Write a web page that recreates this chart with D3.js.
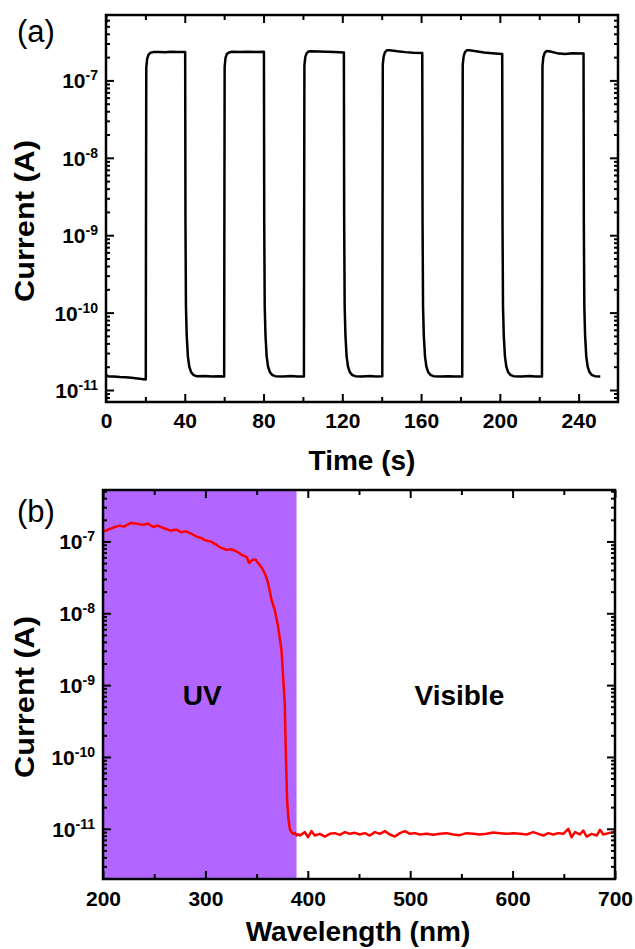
<!DOCTYPE html>
<html lang="en">
<head>
<meta charset="UTF-8">
<title>Photocurrent response</title>
<script src="https://d3js.org/d3.v7.min.js"></script>
<style>
  body { margin: 0; background: #fff; }
  text { font-family: Arial, "Liberation Sans", sans-serif; fill: #000; }
</style>
</head>
<body>
<script>
// ---------- panel (a): on/off switching, current vs time ----------
var timeS = [
  0, 0.6, 1.5, 4, 7, 10, 13, 16, 19, 20.2,
  20.3, 20.45, 20.9, 21.6, 22.6, 24, 27, 30, 33, 36, 40.2,
  40.35, 40.6, 41.0, 41.6, 42.3, 43.2, 44.5, 46, 50, 54, 57, 60.0,
  60.1, 60.25, 60.7, 61.4, 62.4, 64, 68, 72, 76, 80.2,
  80.35, 80.6, 81.0, 81.6, 82.3, 83.2, 84.5, 86, 90, 94, 97, 100.5,
  100.6, 100.75, 101.2, 101.9, 102.9, 104, 108, 112, 116, 120.8,
  120.95, 121.2, 121.6, 122.2, 122.9, 123.8, 125.1, 126.6, 130, 134, 137, 140.3,
  140.4, 140.55, 141, 141.7, 142.7, 144, 148, 152, 156, 160.6,
  160.75, 161.0, 161.4, 162, 162.7, 163.6, 164.9, 166.4, 170, 174, 177, 180.9,
  181.0, 181.15, 181.6, 182.3, 183.3, 184.5, 188, 192, 196, 201.2,
  201.35, 201.6, 202, 202.6, 203.3, 204.2, 205.5, 207, 211, 215, 218, 221.4,
  221.5, 221.65, 222.1, 222.8, 223.8, 225, 229, 233, 237, 242.5,
  242.65, 242.9, 243.3, 243.9, 244.6, 245.5, 246.8, 248.3, 251
];
var currentA = [
  1.58e-11, 1.52e-11, 1.50e-11, 1.49e-11, 1.47e-11, 1.46e-11, 1.44e-11, 1.41e-11, 1.38e-11, 1.37e-11,
  1e-9, 1.45e-7, 1.9e-7, 2.15e-7, 2.28e-7, 2.32e-7, 2.33e-7, 2.31e-7, 2.34e-7, 2.32e-7, 2.33e-7,
  1.5e-9, 1.2e-10, 5e-11, 2.7e-11, 2e-11, 1.7e-11, 1.56e-11, 1.51e-11, 1.52e-11, 1.5e-11, 1.51e-11, 1.5e-11,
  1e-9, 1.5e-7, 1.95e-7, 2.2e-7, 2.3e-7, 2.34e-7, 2.33e-7, 2.35e-7, 2.33e-7, 2.34e-7,
  1.5e-9, 1.2e-10, 5e-11, 2.7e-11, 2e-11, 1.7e-11, 1.56e-11, 1.51e-11, 1.5e-11, 1.52e-11, 1.5e-11, 1.5e-11,
  1e-9, 1.55e-7, 2e-7, 2.25e-7, 2.36e-7, 2.38e-7, 2.36e-7, 2.34e-7, 2.32e-7, 2.3e-7,
  1.5e-9, 1.2e-10, 5e-11, 2.7e-11, 2e-11, 1.7e-11, 1.56e-11, 1.51e-11, 1.5e-11, 1.52e-11, 1.5e-11, 1.51e-11,
  1e-9, 1.6e-7, 2.05e-7, 2.32e-7, 2.45e-7, 2.46e-7, 2.38e-7, 2.32e-7, 2.28e-7, 2.26e-7,
  1.5e-9, 1.2e-10, 5e-11, 2.7e-11, 2e-11, 1.7e-11, 1.56e-11, 1.51e-11, 1.5e-11, 1.51e-11, 1.5e-11, 1.5e-11,
  1e-9, 1.6e-7, 2.05e-7, 2.32e-7, 2.46e-7, 2.46e-7, 2.38e-7, 2.3e-7, 2.25e-7, 2.2e-7,
  1.5e-9, 1.2e-10, 5e-11, 2.7e-11, 2e-11, 1.7e-11, 1.56e-11, 1.51e-11, 1.5e-11, 1.52e-11, 1.5e-11, 1.5e-11,
  1e-9, 1.55e-7, 2e-7, 2.28e-7, 2.4e-7, 2.38e-7, 2.25e-7, 2.2e-7, 2.24e-7, 2.22e-7,
  1.5e-9, 1.2e-10, 5e-11, 2.7e-11, 2e-11, 1.7e-11, 1.56e-11, 1.51e-11, 1.5e-11
];
var timeTicks = [0, 40, 80, 120, 160, 200, 240];
var timeMinor = [20, 60, 100, 140, 180, 220];

// ---------- panel (b): spectral response ----------
var wavelengthNm = [
  200, 203, 206.5, 209, 211.4, 214, 216.3, 218.5, 221.2, 224, 227.7, 230, 232.6, 236, 239.1,
  241.5, 244, 246.5, 248.9, 251, 253.7, 256, 258.6, 261.9, 264, 266.8, 269, 271.7, 274, 276.6,
  279, 281.5, 284, 286.4, 289, 291.3, 294, 296.2, 298.5, 301, 303.5, 305.9, 308.3, 310.8, 313,
  315.7, 318, 320.6, 323, 325.5, 328, 330.4, 333, 335.3, 338, 340.2, 342.7, 345, 347, 349.2,
  351, 353.1, 355.5, 358, 360, 361.3, 363, 364.6, 366.2, 367.8, 369.4, 371, 372.6, 374.3, 375.9,
  377.5, 378.5, 379.8, 381, 382.4, 384, 385.7, 387.5, 389, 390.6,
  392.2, 397.1, 400.3, 403.6, 406.9, 411.7, 416.6, 421.5, 426.4, 431.3, 436.2, 441.1, 445.9,
  450.8, 455.7, 460.6, 465.5, 470.4, 475.3, 480.1, 485, 489.9, 494.8, 499.7, 504.6, 509.5,
  516, 522.5, 529, 535.5, 542, 548.5, 555, 561.6, 568.1, 574.6, 581.1, 587.6, 594.1, 600.6,
  607.2, 613.7, 620.2, 625.1, 630, 634.8, 639.7, 644.6, 649.5, 654.4, 657.6, 660.9, 665.8,
  669, 672.3, 677.2, 682.1, 685.3, 688.6, 693.5, 698.4, 700
];
var photoCurrentA = [
  1.38e-7, 1.42e-7, 1.49e-7, 1.53e-7, 1.59e-7, 1.62e-7, 1.66e-7, 1.63e-7, 1.62e-7, 1.72e-7, 1.81e-7, 1.79e-7, 1.77e-7, 1.73e-7, 1.71e-7,
  1.74e-7, 1.77e-7, 1.68e-7, 1.59e-7, 1.63e-7, 1.66e-7, 1.6e-7, 1.54e-7, 1.49e-7, 1.45e-7, 1.41e-7, 1.44e-7, 1.46e-7, 1.4e-7, 1.34e-7,
  1.37e-7, 1.38e-7, 1.32e-7, 1.28e-7, 1.22e-7, 1.17e-7, 1.14e-7, 1.11e-7, 1.06e-7, 1.03e-7, 1.01e-7, 9.9e-8, 9.4e-8, 9e-8, 8.5e-8,
  8.1e-8, 7.9e-8, 7.65e-8, 7.7e-8, 7.8e-8, 7.5e-8, 7.25e-8, 6.9e-8, 6.5e-8, 6.3e-8, 6.05e-8, 5e-8, 5.4e-8, 5.6e-8, 5.55e-8,
  5.1e-8, 4.7e-8, 4.2e-8, 3.6e-8, 3e-8, 2.6e-8, 2e-8, 1.53e-8, 1.3e-8, 1.1e-8, 8.5e-9, 6.5e-9, 4.5e-9, 3.1e-9, 1.3e-9,
  5.5e-10, 1.2e-10, 2.5e-11, 1.4e-11, 1e-11, 9e-12, 8.5e-12, 8.8e-12, 8.1e-12, 8.4e-12,
  8.06e-12, 8.98e-12, 7.63e-12, 9.27e-12, 8.06e-12, 8.51e-12, 7.8e-12, 8.51e-12, 8.7e-12, 8.24e-12, 8.98e-12, 8.51e-12, 8.79e-12,
  8.33e-12, 8.7e-12, 8.06e-12, 8.98e-12, 8.51e-12, 9.27e-12, 8.33e-12, 7.8e-12, 8.7e-12, 9.27e-12, 8.51e-12, 8.7e-12, 8.33e-12,
  8.51e-12, 8.24e-12, 8.51e-12, 8.7e-12, 8.33e-12, 8.15e-12, 8.7e-12, 8.51e-12, 8.33e-12, 8.51e-12, 8.88e-12, 8.7e-12, 8.51e-12, 8.7e-12,
  8.51e-12, 8.33e-12, 8.98e-12, 8.51e-12, 8.06e-12, 8.7e-12, 8.33e-12, 8.7e-12, 8.51e-12, 1e-11, 7.63e-12, 8.98e-12, 8.33e-12,
  9.47e-12, 7.8e-12, 8.51e-12, 8.06e-12, 9.68e-12, 8.33e-12, 8.7e-12, 8.98e-12, 9.3e-12
];
var wlTicks = [200, 300, 400, 500, 600, 700];
var wlMinor = [250, 350, 450, 550, 650];
var uvBand = [200, 389];

var currentTicks = [1e-11, 1e-10, 1e-9, 1e-8, 1e-7];

var svg = d3.select("body").append("svg")
    .attr("width", 635)
    .attr("height", 949);

function logMinor(domain) {
    var out = [];
    for (var e = -13; e <= -5; e++) {
        for (var m = 2; m <= 9; m++) {
            var v = m * Math.pow(10, e);
            if (v > domain[0] && v < domain[1]) out.push(v);
        }
    }
    return out;
}

function styleAxis(sel) {
    sel.select(".domain").remove();
    sel.selectAll(".tick line").attr("stroke", "#000").attr("stroke-width", 2);
    sel.selectAll(".tick text")
        .attr("font-family", "Arial, 'Liberation Sans', sans-serif")
        .attr("font-size", 21).attr("font-weight", "bold").attr("fill", "#000");
    sel.attr("font-family", null).attr("font-size", null);
}

function powerLabels(sel) {
    sel.selectAll(".tick text").each(function(d) {
        var t = d3.select(this).text("").attr("dy", "0.36em");
        t.append("tspan").text("10");
        t.append("tspan").attr("font-size", 14).attr("dy", -8)
            .text(String(Math.round(Math.log10(d))));
    });
}

function panel(o) {
    var g = svg.append("g");
    var x = d3.scaleLinear().domain(o.xDomain).range([o.left, o.right]);
    var y = d3.scaleLog().domain(o.yDomain).range([o.bottom, o.top]);

    if (o.band) {
        g.append("rect")
            .attr("x", x(o.band[0])).attr("y", o.top)
            .attr("width", x(o.band[1]) - x(o.band[0]))
            .attr("height", o.bottom - o.top)
            .attr("fill", "#b266ff");
    }

    var line = d3.line()
        .x(function(d) { return x(d[0]); })
        .y(function(d) { return y(d[1]); });

    g.append("path")
        .datum(d3.zip(o.xs, o.ys))
        .attr("fill", "none")
        .attr("stroke", o.color)
        .attr("stroke-width", 2.5)
        .attr("stroke-linejoin", "round")
        .attr("d", line);

    // x axes (bottom with labels, top mirrored)
    g.append("g").attr("transform", "translate(0," + o.bottom + ")")
        .call(d3.axisBottom(x).tickValues(o.xTicks).tickSize(-8).tickPadding(o.xPad).tickFormat(d3.format("d")))
        .call(styleAxis);
    g.append("g").attr("transform", "translate(0," + o.bottom + ")")
        .call(d3.axisBottom(x).tickValues(o.xMinor).tickSize(-5).tickFormat(""))
        .call(styleAxis);
    g.append("g").attr("transform", "translate(0," + o.top + ")")
        .call(d3.axisTop(x).tickValues(o.xTicks).tickSize(-8).tickFormat(""))
        .call(styleAxis);
    g.append("g").attr("transform", "translate(0," + o.top + ")")
        .call(d3.axisTop(x).tickValues(o.xMinor).tickSize(-5).tickFormat(""))
        .call(styleAxis);

    // y axes (log)
    var minor = logMinor(o.yDomain);
    g.append("g").attr("transform", "translate(" + o.left + ",0)")
        .call(d3.axisLeft(y).tickValues(currentTicks).tickSize(-8).tickPadding(8))
        .call(styleAxis).call(powerLabels);
    g.append("g").attr("transform", "translate(" + o.left + ",0)")
        .call(d3.axisLeft(y).tickValues(minor).tickSize(-4).tickFormat(""))
        .call(styleAxis);
    g.append("g").attr("transform", "translate(" + o.right + ",0)")
        .call(d3.axisRight(y).tickValues(currentTicks).tickSize(-8).tickFormat(""))
        .call(styleAxis);
    g.append("g").attr("transform", "translate(" + o.right + ",0)")
        .call(d3.axisRight(y).tickValues(minor).tickSize(-4).tickFormat(""))
        .call(styleAxis);

    // frame
    g.append("rect")
        .attr("x", o.left).attr("y", o.top)
        .attr("width", o.right - o.left).attr("height", o.bottom - o.top)
        .attr("fill", "none").attr("stroke", "#000").attr("stroke-width", 2.5);

    // titles
    g.append("text")
        .attr("x", (o.left + o.right) / 2 + o.xTitleShift).attr("y", o.xTitleY)
        .attr("text-anchor", "middle").attr("font-size", 28).attr("font-weight", "bold")
        .text(o.xTitle);
    g.append("text")
        .attr("transform", "translate(34," + o.yTitleY + ") rotate(-90)")
        .attr("text-anchor", "middle").attr("font-size", 27).attr("font-weight", "bold")
        .attr("textLength", 162).attr("lengthAdjust", "spacingAndGlyphs")
        .text("Current (A)");
    g.append("text")
        .attr("x", 17).attr("y", o.tagY)
        .attr("font-size", 31)
        .text(o.tag);

    return {x: x, y: y, g: g};
}

panel({
    left: 106, right: 618, top: 15, bottom: 402,
    xDomain: [0, 260], yDomain: [7e-12, 7e-7],
    xs: timeS, ys: currentA, color: "#000",
    xTicks: timeTicks, xMinor: timeMinor, xPad: 11,
    xTitle: "Time (s)", xTitleY: 470, xTitleShift: 0,
    yTitleY: 221, tag: "(a)", tagY: 42
});

var pb = panel({
    left: 103, right: 615, top: 490, bottom: 879,
    xDomain: [200, 700], yDomain: [2e-12, 5.2e-7],
    xs: wavelengthNm, ys: photoCurrentA, color: "#ff0000",
    band: uvBand,
    xTicks: wlTicks, xMinor: wlMinor, xPad: 12,
    xTitle: "Wavelength (nm)", xTitleY: 941, xTitleShift: -1,
    yTitleY: 697, tag: "(b)", tagY: 522
});

pb.g.append("text")
    .attr("x", pb.x(297)).attr("y", 705)
    .attr("text-anchor", "middle").attr("font-size", 28).attr("font-weight", "bold")
    .text("UV");
pb.g.append("text")
    .attr("x", pb.x(548)).attr("y", 705)
    .attr("text-anchor", "middle").attr("font-size", 28).attr("font-weight", "bold")
    .text("Visible");
</script>
</body>
</html>
